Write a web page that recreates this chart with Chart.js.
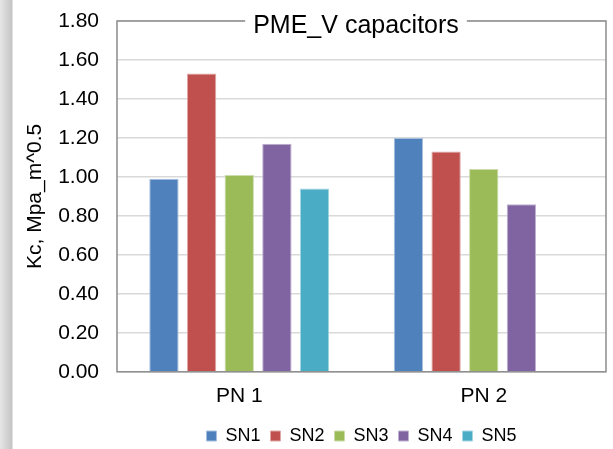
<!DOCTYPE html>
<html>
<head>
<meta charset="utf-8">
<script src="https://cdn.jsdelivr.net/npm/chart.js@4.4.1/dist/chart.umd.min.js"></script>
<style>
html,body{margin:0;padding:0;}
body{width:613px;height:449px;background:linear-gradient(to right,#e6e6e6 0px,#c4c4c4 12px,#ffffff 13px);}
#wrap{position:relative;width:613px;height:449px;}
</style>
</head>
<body>
<div id="wrap"><canvas id="myChart" width="613" height="449"></canvas></div>
<script>
// categories and values
const categories = ['PN 1', 'PN 2']
const seriesNames = ['SN1', 'SN2', 'SN3', 'SN4', 'SN5']
const sn1 = [0.99, 1.20]
const sn2 = [1.53, 1.13]
const sn3 = [1.01, 1.04]
const sn4 = [1.17, 0.86]
const sn5 = [0.94, null]
const chartTitle = 'PME_V capacitors'
const yTitle = 'Kc, Mpa_m^0.5'

const colors = ['#4F81BD', '#C0504D', '#9BBB59', '#8064A2', '#4BACC6']
const edges = ['#a7c0de', '#e0a8a6', '#cddcac', '#bfb1d0', '#a5d5e2']
const values = [sn1, sn2, sn3, sn4, sn5]

data_datasets = []
for(i=0;i<seriesNames.length;i++){
	data_datasets.push({
		label: seriesNames[i],
		data: values[i],
		backgroundColor: colors[i],
		borderColor: edges[i],
		borderWidth: 1,
		categoryPercentage: 0.77,
		barPercentage: 0.78
	})
}

// frame round the plot and the title sitting on its top edge
const framePlugin = {
	id: 'frame',
	afterDatasetsDraw(chart){
		const ctx = chart.ctx
		const a = chart.chartArea
		ctx.save()
		ctx.strokeStyle = '#8c8c8c'
		ctx.lineWidth = 1.5
		ctx.strokeRect(a.left, a.top, a.right - a.left, a.bottom - a.top)
		ctx.font = '25px "Liberation Sans", Arial, sans-serif'
		const w = ctx.measureText(chartTitle).width
		const cx = 356
		ctx.fillStyle = '#ffffff'
		ctx.fillRect(cx - w / 2 - 8, a.top - 6, w + 16, 26)
		ctx.fillStyle = '#000000'
		ctx.textAlign = 'center'
		ctx.textBaseline = 'middle'
		ctx.fillText(chartTitle, cx, a.top + 5)
		ctx.restore()
	}
}

const myNewChart = new Chart(document.getElementById('myChart'), {
	type: 'bar',
	data: {
		labels: categories,
		datasets: data_datasets
	},
	plugins: [framePlugin],
	options: {
		responsive: false,
		animation: false,
		layout: {
			padding: {top: 21, right: 7, left: 0, bottom: -6}
		},
		scales: {
			x: {
				afterFit(scale){ scale.height += 4 },
				grid: {display: false},
				border: {display: false},
				ticks: {
					color: '#000',
					padding: 4,
					font: {family: '"Liberation Sans", Arial, sans-serif', size: 21}
				}
			},
			y: {
				min: 0,
				max: 1.8,
				afterFit(scale){
					scale.width = 117
					scale.paddingTop = 0
					scale.paddingBottom = 0
				},
				grid: {color: '#d9d9d9', lineWidth: 1.5, drawTicks: false},
				border: {display: false},
				ticks: {
					stepSize: 0.2,
					color: '#000',
					padding: 18,
					font: {family: '"Liberation Sans", Arial, sans-serif', size: 21},
					callback: function(v){ return Number(v).toFixed(2) }
				},
				title: {
					display: true,
					text: yTitle,
					color: '#000',
					padding: {top: 23, bottom: 0},
					font: {family: '"Liberation Sans", Arial, sans-serif', size: 21}
				}
			}
		},
		plugins: {
			title: {display: false},
			tooltip: {enabled: false},
			legend: {
				display: true,
				position: 'bottom',
				fullSize: false,
				labels: {
					color: '#000',
					boxWidth: 10,
					boxHeight: 10,
					padding: 10,
					font: {family: '"Liberation Sans", Arial, sans-serif', size: 18}
				}
			}
		}
	}
})
</script>
</body>
</html>
